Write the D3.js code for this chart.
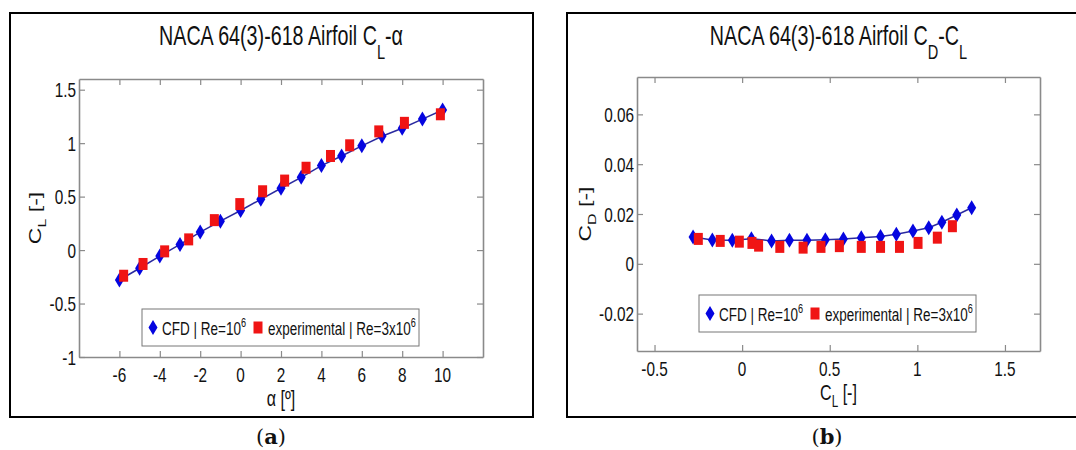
<!DOCTYPE html>
<html>
<head>
<meta charset="utf-8">
<script src="https://cdn.jsdelivr.net/npm/d3@7"></script>
<style>
  html, body { margin: 0; padding: 0; background: #fff; }
  svg { display: block; }
</style>
</head>
<body>
<svg id="fig" width="1076" height="450"></svg>
<script>
// ---- (a) lift curve: CFD at Re = 1e6, experiment at Re = 3e6 ----
const alphaCFD = [-6, -5, -4, -3, -2, -1, 0, 1, 2, 3, 4, 5, 6, 7, 8, 9, 10];
const clCFD = [-0.28, -0.17, -0.056, 0.053, 0.168, 0.27, 0.37, 0.475, 0.578, 0.68, 0.79, 0.88, 0.975, 1.065, 1.14, 1.225, 1.31];
const alphaExp = [-5.79, -4.83, -3.76, -2.57, -1.30, -0.04, 1.09, 2.18, 3.24, 4.45, 5.40, 6.84, 8.11, 9.89];
const clExp = [-0.24, -0.13, -0.012, 0.10, 0.28, 0.43, 0.55, 0.65, 0.77, 0.88, 0.98, 1.11, 1.19, 1.27];

// ---- (b) drag polar ----
const cdCFD = [0.0108, 0.0096, 0.0095, 0.0101, 0.0092, 0.0095, 0.0095, 0.0097, 0.0100, 0.0105, 0.0110, 0.0119, 0.0132, 0.0145, 0.0167, 0.0196, 0.0225];
const clExpPolar = [-0.25, -0.125, -0.016, 0.056, 0.094, 0.215, 0.348, 0.45, 0.555, 0.68, 0.79, 0.898, 1.004, 1.114, 1.20];
const cdExpPolar = [0.0100, 0.0092, 0.0089, 0.0084, 0.0073, 0.0068, 0.0065, 0.0068, 0.0071, 0.0068, 0.0068, 0.0068, 0.0084, 0.0105, 0.0151];

// ---- axis ticks ----
const xTicksA = [-6, -4, -2, 0, 2, 4, 6, 8, 10];
const yTicksA = [-1, -0.5, 0, 0.5, 1, 1.5];
const xTicksB = [-0.5, 0, 0.5, 1, 1.5];
const yTicksB = [-0.02, 0, 0.02, 0.04, 0.06];

const FONT = "'Liberation Sans', Arial, Helvetica, sans-serif";
const SX = 0.73;          // horizontal condensing of the figure text
const BLUE = "#0505e0", RED = "#f01414", LINE = "#2a2aa0", AXIS = "#8a8a8a";

const svg = d3.select("#fig");

function squish(parent, x, y, rotate) {
  return parent.append("text")
    .attr("transform", `translate(${x},${y}) scale(${SX},1)` + (rotate ? ` rotate(${rotate})` : ""))
    .attr("font-family", FONT)
    .attr("fill", "#111");
}
function rich(sel, parts) {
  parts.forEach(p => sel.append("tspan")
    .attr("font-size", p.size)
    .attr("dy", p.dy || 0)
    .text(p.t));
  return sel;
}
const diamond = (w, h) => `M0,${-h / 2}L${w / 2},0L0,${h / 2}L${-w / 2},0Z`;

function panel(cfg) {
  const g = svg.append("g");
  // outer figure frame
  g.append("rect").attr("x", cfg.frame[0]).attr("y", cfg.frame[1])
    .attr("width", cfg.frame[2]).attr("height", cfg.frame[3])
    .attr("fill", "none").attr("stroke", "#000").attr("stroke-width", 2);

  const [L, T, R, B] = cfg.plot;
  const x = d3.scaleLinear().domain(cfg.xDomain).range([L, R]);
  const y = d3.scaleLinear().domain(cfg.yDomain).range([B, T]);

  g.append("rect").attr("x", L).attr("y", T).attr("width", R - L).attr("height", B - T).attr("fill", "#fff");

  // box axes with inward ticks on all four sides
  const axes = [
    [d3.axisBottom(x).tickValues(cfg.xTicks), `translate(0,${B})`],
    [d3.axisTop(x).tickValues(cfg.xTicks), `translate(0,${T})`],
    [d3.axisLeft(y).tickValues(cfg.yTicks), `translate(${L},0)`],
    [d3.axisRight(y).tickValues(cfg.yTicks), `translate(${R},0)`]
  ];
  axes.forEach(([ax, tr]) => {
    const a = g.append("g").attr("transform", tr)
      .call(ax.tickSizeInner(-6).tickSizeOuter(0).tickFormat(""));
    a.select(".domain").attr("stroke", AXIS).attr("stroke-width", 1.6);
    a.selectAll(".tick line").attr("stroke", AXIS).attr("stroke-width", 1.2);
  });

  // tick labels
  cfg.xTicks.forEach(v => squish(g, x(v), B + 25).attr("text-anchor", "middle").attr("font-size", 21).text(String(v)));
  cfg.yTicks.forEach(v => squish(g, L - 3, y(v) + 7.5).attr("text-anchor", "end").attr("font-size", 21).text(String(v)));

  // title and axis labels
  rich(squish(g, (L + R) / 2, 45).attr("text-anchor", "middle"), cfg.title);
  rich(squish(g, (L + R) / 2, B + 49).attr("text-anchor", "middle"), cfg.xLabel);
  rich(squish(g, cfg.yLabelX, (T + B) / 2, -90).attr("text-anchor", "middle"), cfg.yLabel);

  // CFD line and markers
  const cfd = cfg.cfdX.map((v, i) => [v, cfg.cfdY[i]]);
  g.append("path").datum(cfd)
    .attr("d", d3.line().x(d => x(d[0])).y(d => y(d[1])))
    .attr("fill", "none").attr("stroke", LINE).attr("stroke-width", 1.5);
  g.selectAll(null).data(cfd).enter().append("path")
    .attr("transform", d => `translate(${x(d[0])},${y(d[1])})`)
    .attr("d", diamond(9, 15)).attr("fill", BLUE);

  // experimental markers
  const exp = cfg.expX.map((v, i) => [v, cfg.expY[i]]);
  g.selectAll(null).data(exp).enter().append("rect")
    .attr("x", d => x(d[0]) - 4.5).attr("y", d => y(d[1]) - 6)
    .attr("width", 9).attr("height", 12).attr("fill", RED);

  // legend
  const [lx, ly] = cfg.legend;
  const lw = 277, lh = 37, cy = ly + lh / 2;
  g.append("rect").attr("x", lx).attr("y", ly).attr("width", lw).attr("height", lh)
    .attr("fill", "#fff").attr("stroke", "#777").attr("stroke-width", 1);
  g.append("path").attr("transform", `translate(${lx + 11},${cy})`).attr("d", diamond(9, 15)).attr("fill", BLUE);
  rich(squish(g, lx + 20, cy + 7), [{ t: "CFD | Re=10", size: 18.5 }, { t: "6", size: 12.5, dy: -8 }]);
  g.append("rect").attr("x", lx + 116 - 4.5).attr("y", cy - 6).attr("width", 9).attr("height", 12).attr("fill", RED);
  rich(squish(g, lx + 126, cy + 7), [{ t: "experimental | Re=3x10", size: 18.5 }, { t: "6", size: 12.5, dy: -8 }]);

  // sub-figure caption
  const cap = g.append("text").attr("x", cfg.caption[0]).attr("y", cfg.caption[1])
    .attr("text-anchor", "middle").attr("font-family", "'DejaVu Serif', 'Liberation Serif', serif")
    .attr("font-size", 21).attr("fill", "#111");
  cap.append("tspan").text("(");
  cap.append("tspan").attr("font-weight", "bold").text(cfg.captionLetter);
  cap.append("tspan").text(")");
}

panel({
  frame: [10, 13, 523, 404],
  plot: [79, 79, 483, 357],
  xDomain: [-8, 12], yDomain: [-1, 1.6],
  xTicks: xTicksA, yTicks: yTicksA,
  title: [{ t: "NACA 64(3)-618 Airfoil C", size: 27 }, { t: "L", size: 20, dy: 14 }, { t: "-α", size: 27, dy: -14 }],
  xLabel: [{ t: "α [º]", size: 22 }],
  yLabel: [{ t: "C", size: 23 }, { t: "L", size: 16, dy: 7 }, { t: " [-]", size: 23, dy: -7 }],
  yLabelX: 41,
  cfdX: alphaCFD, cfdY: clCFD,
  expX: alphaExp, expY: clExp,
  legend: [142, 309],
  caption: [271, 444], captionLetter: "a"
});

panel({
  frame: [567, 13, 540, 404],
  plot: [637, 77, 1040, 351],
  xDomain: [-0.6, 1.7], yDomain: [-0.035, 0.075],
  xTicks: xTicksB, yTicks: yTicksB,
  title: [{ t: "NACA 64(3)-618 Airfoil C", size: 27 }, { t: "D", size: 20, dy: 14 }, { t: "-C", size: 27, dy: -14 }, { t: "L", size: 20, dy: 14 }],
  xLabel: [{ t: "C", size: 22 }, { t: "L", size: 16, dy: 7 }, { t: " [-]", size: 22, dy: -7 }],
  yLabel: [{ t: "C", size: 23 }, { t: "D", size: 16, dy: 7 }, { t: " [-]", size: 23, dy: -7 }],
  yLabelX: 591,
  cfdX: clCFD, cfdY: cdCFD,
  expX: clExpPolar, expY: cdExpPolar,
  legend: [699, 295],
  caption: [827, 444], captionLetter: "b"
});
</script>
</body>
</html>
